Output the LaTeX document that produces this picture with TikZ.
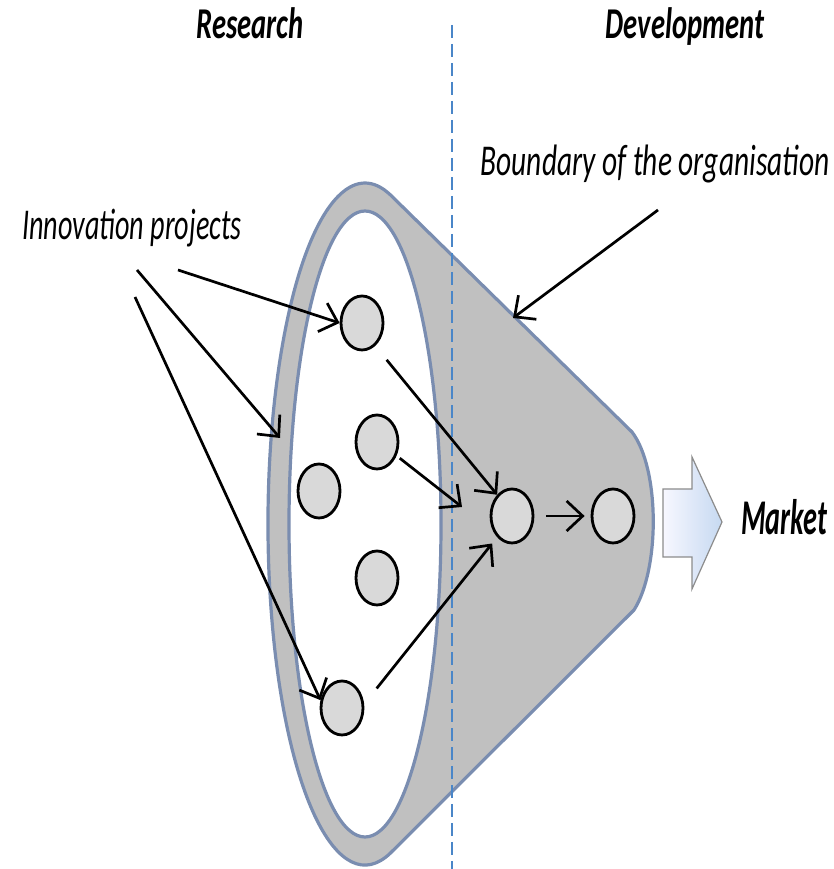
\documentclass[tikz,border=0pt]{standalone}
\usepackage{fontspec}
\setmainfont{Carlito}
\usetikzlibrary{arrows.meta,shapes.geometric}

\definecolor{funnelgray}{HTML}{C0C0C0}
\definecolor{funnelline}{HTML}{7A8DB0}
\definecolor{projfill}{HTML}{D9D9D9}
\definecolor{splitblue}{HTML}{4A86C8}
\definecolor{marketblue}{HTML}{C6D9F1}

\tikzset{
  project/.style={ellipse, draw=black, line width=2.8pt, fill=projfill,
    minimum width=42pt, minimum height=54pt, inner sep=0pt},
  arr/.style={line width=2.7pt, -{Straight Barb[length=16pt,width=30pt]}},
  heading/.style={font=\fontsize{44}{44}\selectfont\bfseries\itshape,
    xscale=0.65, anchor=base, inner sep=0pt},
  note/.style={font=\fontsize{44}{44}\selectfont\itshape,
    xscale=0.64, anchor=base, inner sep=0pt}
}

\begin{document}
\begin{tikzpicture}[x=1pt, y=1pt]
  \useasboundingbox (0, 0) rectangle (833, 869);

  \filldraw [fill=funnelgray, draw=funnelline, line width=3.2pt, line join=round]
    (390.1, 674.4) -- (632, 437) .. controls (660, 400) and (660, 300) .. (634, 259)
    -- (390.1, 15.6) arc[start angle=285, end angle=75, x radius=97, y radius=341];
  \filldraw [fill=white, draw=funnelline, line width=3.2pt]
    (365, 345) ellipse[x radius=76, y radius=313];

  \draw [splitblue, line width=1.6pt, dash pattern=on 13pt off 6pt] (452, 844) -- (452, 0);

  \node [heading] (research) at (250, 830) {Research};
  \node [heading] (development) at (685, 830) {Development};
  \node [note] (innov) at (132, 629) {Innovation projects};
  \node [note, xscale=1.045] (bound) at (655, 693) {Boundary of the organisation};
  \node [heading, font=\fontsize{50}{50}\selectfont\bfseries\itshape, xscale=0.87] (market) at (784, 334) {Market};

  \node [project] (A) at (362, 546) {};
  \node [project] (B) at (377, 427) {};
  \node [project] (C) at (319, 378) {};
  \node [project] (D) at (377, 291) {};
  \node [project] (E) at (342, 161) {};
  \node [project] (F) at (512, 353) {};
  \node [project] (G) at (613, 353) {};

  \shade [left color=blue!3, right color=marketblue, draw=gray!90, line width=1.2pt]
    (663, 380) -- (692, 380) -- (692, 412) -- (722, 347) -- (692, 280) -- (692, 312)
    -- (663, 312) -- cycle;

  \coordinate (i1) at (178, 599);
  \coordinate (i2) at (137, 599);
  \coordinate (i3) at (135, 572);
  \coordinate (ring) at (280, 431);
  \coordinate (b1) at (658, 659);
  \coordinate (edge) at (513, 551);
  \coordinate (Fin) at (462, 362);

  \draw [arr] (i1) -- (A.west);
  \draw [arr] (i2) -- (ring);
  \draw [arr] (i3) -- (E.160);
  \draw [arr] (b1) -- (edge);

  \draw [arr, shorten <=18pt] (A.-60) -- (F.125);
  \draw [arr, shorten <=4pt] (B.-35) -- (Fin);
  \draw [arr, shorten <=20pt, shorten >=8pt] (E.10) -- (F.-125);
  \draw [arr, shorten <=12pt, shorten >=6pt] (F) -- (G);
\end{tikzpicture}
\end{document}
